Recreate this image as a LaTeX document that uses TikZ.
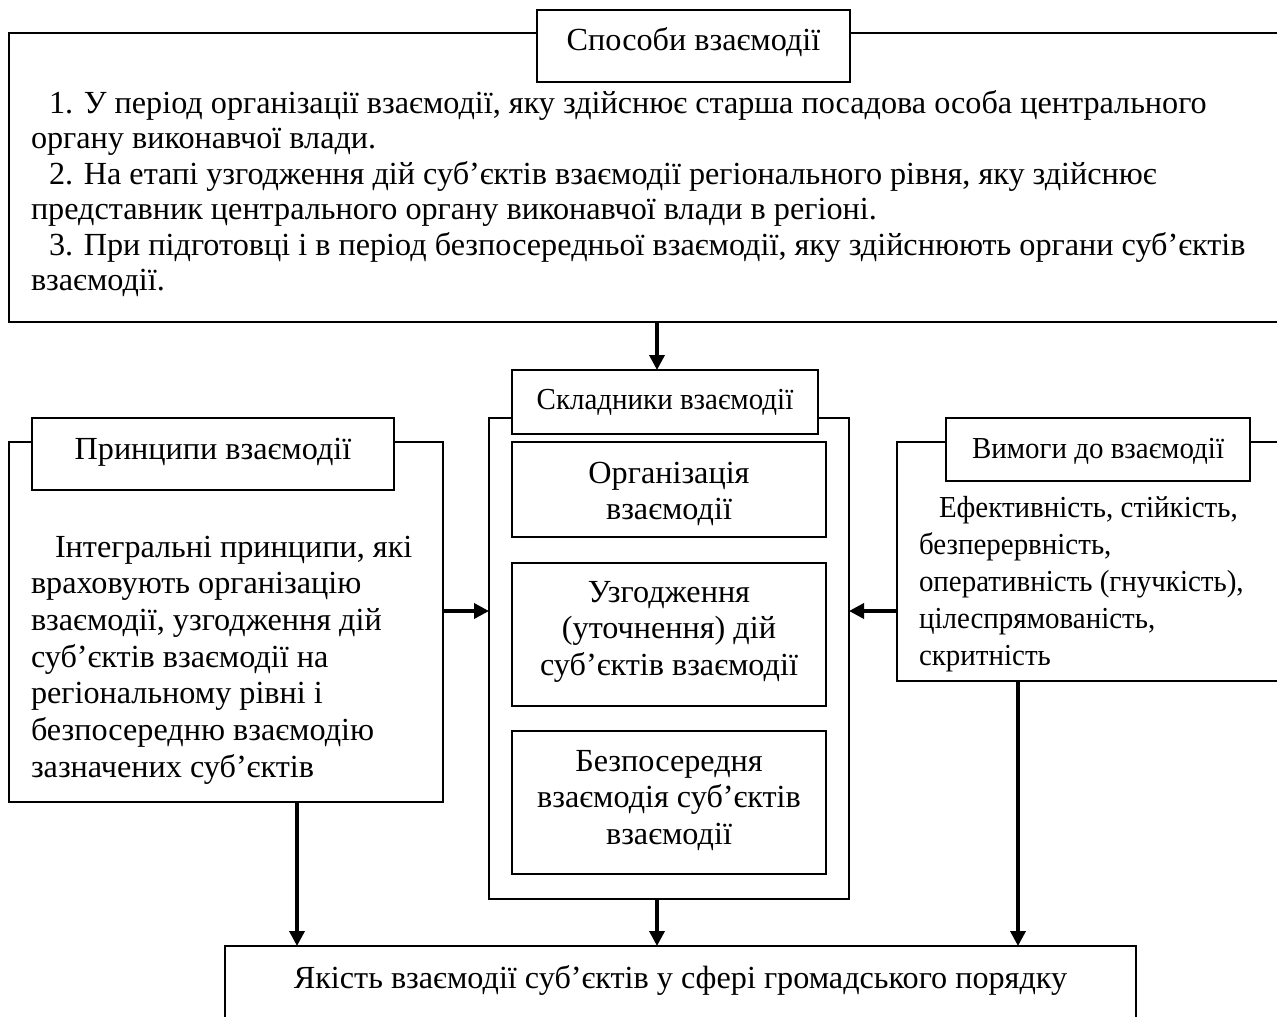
\documentclass[tikz,border=0pt]{standalone}
\usepackage{fontspec}
\setmainfont{Liberation Serif}
\newfontfamily\cndfont[FakeStretch=0.95]{Liberation Serif}
\usetikzlibrary{arrows.meta}
\newcommand\fsz[1]{\fontsize{32.2}{#1}\selectfont\lineskiplimit=-30pt\relax}
\newcommand\fcnd[1]{\cndfont\fontsize{30.5}{#1}\selectfont\lineskiplimit=-30pt\relax}
\begin{document}
\begin{tikzpicture}[x=1pt,y=-1pt,
  frame/.style={draw,line width=2.2pt,inner sep=0pt,outer sep=0pt,anchor=north west},
  ttl/.style={draw,fill=white,line width=2.3pt,inner sep=0pt,outer sep=0pt,anchor=north west,font=\fsz{35.5}},
  inbox/.style={draw,line width=1.7pt,inner sep=0pt,outer sep=0pt,anchor=north west},
  body/.style={inner sep=0pt,outer sep=0pt,align=left,anchor=north west},
  ctext/.style={inner sep=0pt,outer sep=0pt,align=center,anchor=north,font=\fsz{36.5}},
  arr/.style={line width=3.5pt,-{Triangle[length=15pt,width=15pt]}}
]
\useasboundingbox (0,0) rectangle (1277,1017);
\clip (0,0) rectangle (1277,1017);

% outer frames
\node[frame,minimum width=1281pt,minimum height=289pt] (spos) at (9,33) {};
\node[frame,minimum width=360pt,minimum height=481pt] (cent) at (489,418) {};
\node[frame,minimum width=434pt,minimum height=360pt] (prin) at (9,442) {};
\node[frame,minimum width=393pt,minimum height=239pt] (vym) at (897,442) {};
\node[frame,minimum width=911pt,text height=42pt,text depth=80pt,font=\fsz{35.5}] (res) at (225,946) {Якість взаємодії суб’єктів у сфері громадського порядку};

% titles
\node[ttl,minimum width=313pt,text height=40pt,text depth=32pt] (sposT) at (537,10) {Способи взаємодії};
\node[ttl,minimum width=306pt,text height=39pt,text depth=25pt,font=\fcnd{35.5}] (sklT) at (512,370) {Складники взаємодії};
\node[ttl,minimum width=362pt,text height=41pt,text depth=31pt] (prinT) at (32,418) {Принципи взаємодії};
\node[ttl,minimum width=304pt,text height=40pt,text depth=23pt,font=\fcnd{35.5}] (vymT) at (946,418) {Вимоги до взаємодії};

% body texts
\node[body,font=\fsz{35.5}] (sposTxt) at (31,79) {\rule{0pt}{34pt}\hspace*{18pt}1. У період організації взаємодії, яку здійснює старша посадова особа центрального\\
органу виконавчої влади.\\
\hspace*{18pt}2. На етапі узгодження дій суб’єктів взаємодії регіонального рівня, яку здійснює\\
представник центрального органу виконавчої влади в регіоні.\\
\hspace*{18pt}3. При підготовці і в період безпосередньої взаємодії, яку здійснюють органи суб’єктів\\
взаємодії.};

\node[body,font=\fsz{36.7}] (prinTxt) at (31,523) {\rule{0pt}{34pt}\hspace*{24pt}Інтегральні принципи, які\\
враховують організацію\\
взаємодії, узгодження дій\\
суб’єктів взаємодії на\\
регіональному рівні і\\
безпосередню взаємодію\\
зазначених суб’єктів};

\node[body,font=\fcnd{37}] (vymTxt) at (919,483) {\rule{0pt}{34pt}\hspace*{20pt}Ефективність, стійкість,\\
безперервність,\\
оперативність (гнучкість),\\
цілеспрямованість,\\
скритність};

% inner boxes
\node[inbox,minimum width=314pt,minimum height=95pt] (org) at (512,442) {};
\node[inbox,minimum width=314pt,minimum height=143pt] (uzg) at (512,563) {};
\node[inbox,minimum width=314pt,minimum height=143pt] (bez) at (512,731) {};
\node[ctext] (orgTxt) at (669,449) {\rule{0pt}{34pt}Організація\\взаємодії};
\node[ctext] (uzgTxt) at (669,568) {\rule{0pt}{34pt}Узгодження\\(уточнення) дій\\суб’єктів взаємодії};
\node[ctext] (bezTxt) at (669,737) {\rule{0pt}{34pt}Безпосередня\\взаємодія суб’єктів\\взаємодії};

% connectors
\coordinate (cx) at (657,0);
\coordinate (lx) at (297,0);
\coordinate (rx) at (1018,0);
\coordinate (ly) at (0,611);
\draw[arr] (cx |- spos.south) -- (cx |- sklT.north);
\draw[arr] (prin.east |- ly) -- (cent.west |- ly);
\draw[arr] (vym.west |- ly) -- (cent.east |- ly);
\draw[arr] (lx |- prin.south) -- (lx |- res.north);
\draw[arr] (cx |- cent.south) -- (cx |- res.north);
\draw[arr] (rx |- vym.south) -- (rx |- res.north);
\end{tikzpicture}
\end{document}
